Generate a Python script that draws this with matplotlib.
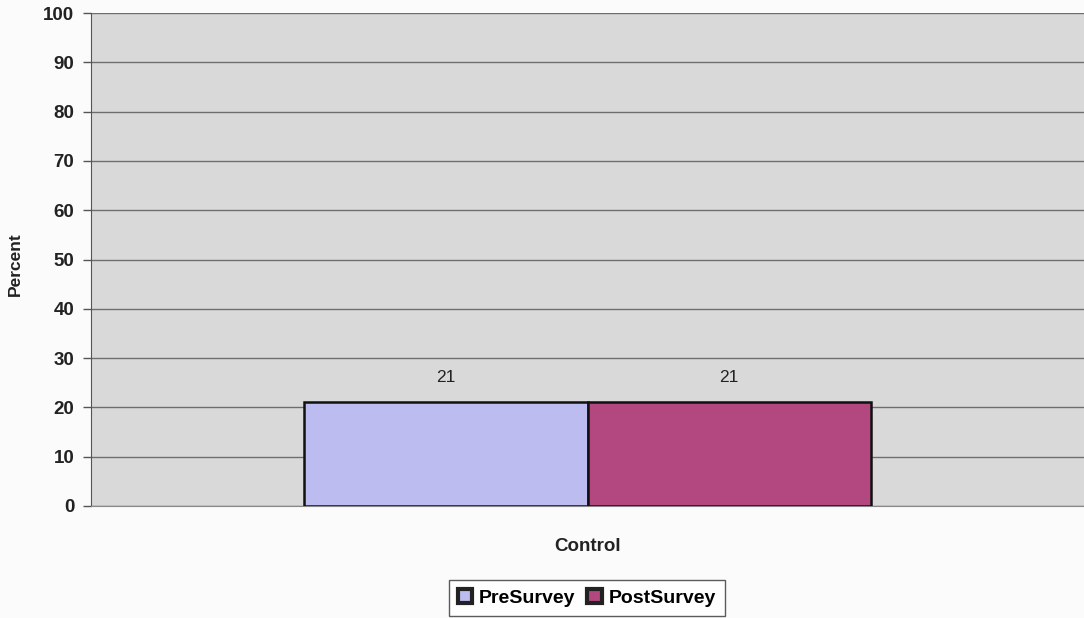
import matplotlib
matplotlib.use("Agg")
import matplotlib.pyplot as plt
from matplotlib.patches import Patch
import numpy as np

categories = ["Control"]
series_names = ["PreSurvey", "PostSurvey"]
pre_values = [21]
post_values = [21]
y_ticks = [0, 10, 20, 30, 40, 50, 60, 70, 80, 90, 100]

plt.rcParams["font.family"] = ["Liberation Sans", "DejaVu Sans"]

pre_color = "#bcbcf0"
post_color = "#b3477f"

fig = plt.figure(figsize=(10.84, 6.18), dpi=100)
fig.patch.set_facecolor("#fbfbfb")
ax = fig.add_axes([91 / 1084, 112 / 618, 993 / 1084, 493 / 618])
ax.set_facecolor("#d9d9d9")

x = np.arange(len(categories))
width = 0.285
b1 = ax.bar(x - width / 2, pre_values, width, color=pre_color, edgecolor="#111111",
            linewidth=1.8, label=series_names[0], zorder=3)
b2 = ax.bar(x + width / 2, post_values, width, color=post_color, edgecolor="#111111",
            linewidth=1.8, label=series_names[1], zorder=3)

for bars, vals in ((b1, pre_values), (b2, post_values)):
    for rect, v in zip(bars, vals):
        ax.text(rect.get_x() + rect.get_width() / 2, v + 3.6, f"{v}",
                ha="center", va="bottom", fontsize=12.5, color="#222222")

ax.set_xlim(-0.5, 0.5)
ax.set_ylim(0, 100)
ax.set_yticks(y_ticks)
ax.set_yticklabels([str(t) for t in y_ticks], fontsize=13.5, fontweight="bold", color="#222222")
ax.set_xticks(x)
ax.set_xticklabels(categories, fontsize=13.5, fontweight="bold", color="#222222")
ax.tick_params(axis="x", length=0, pad=23)
ax.tick_params(axis="y", length=6, width=1, color="#555555", pad=6)

ax.yaxis.grid(True, color="#6e6e6e", linewidth=1.0, zorder=1)
ax.set_axisbelow(True)

for side in ("top", "right"):
    ax.spines[side].set_visible(False)
ax.spines["left"].set_color("#555555")
ax.spines["bottom"].set_color("#888888")

ax.set_ylabel("Percent", fontsize=12.5, fontweight="bold", color="#222222")
ax.yaxis.set_label_coords(-68 / 993, 0.49)

handles = [Patch(facecolor=pre_color, edgecolor="#222222", linewidth=3),
           Patch(facecolor=post_color, edgecolor="#222222", linewidth=3)]
leg = fig.legend(handles, series_names, loc="center", bbox_to_anchor=(587 / 1084, 1 - 598 / 618),
                 ncol=2, frameon=True, fancybox=False, edgecolor="#333333",
                 handlelength=0.75, handleheight=0.75, handletextpad=0.35,
                 columnspacing=0.6, borderpad=0.45, prop={"weight": "bold", "size": 14})
leg.get_frame().set_linewidth(1.0)

fig.savefig("out.png", dpi=100, facecolor=fig.get_facecolor())
